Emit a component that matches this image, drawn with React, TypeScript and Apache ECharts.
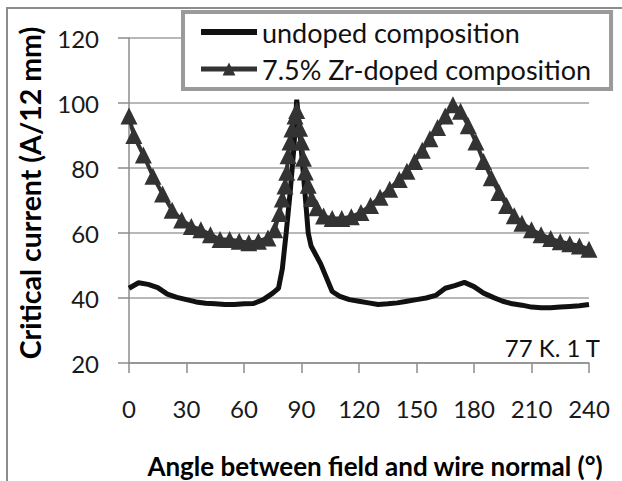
import React, { useEffect, useRef } from "react";
import * as echarts from "echarts";

const seriesNames = ["undoped composition", "7.5% Zr-doped composition"];

const undopedAngles = [0, 5, 10, 15, 20, 25, 30, 35, 40, 45, 50, 55, 60, 65, 70, 75, 78, 80, 82, 84, 86, 87.5, 89, 90, 92, 93.5, 95, 100, 106, 110, 115, 120, 125, 130, 135, 140, 145, 150, 155, 160, 165, 170, 175, 180, 185, 190, 195, 200, 205, 210, 215, 220, 225, 230, 235, 240];
const undopedValues = [43, 44.7, 44.2, 43.2, 41.2, 40.2, 39.5, 38.8, 38.4, 38.2, 38, 38, 38.2, 38.3, 39.5, 41.5, 43, 49, 60, 72, 86, 101, 92, 85, 71, 60, 56, 50.5, 42, 40.5, 39.5, 39, 38.5, 38, 38.2, 38.5, 39, 39.5, 40, 40.8, 43, 43.8, 44.8, 43.5, 41.5, 40.2, 39, 38.2, 37.8, 37.2, 37, 37, 37.2, 37.4, 37.6, 38];

const dopedAngles = [0, 2.5, 7.5, 12.5, 17.5, 22.5, 27.5, 32.5, 37.5, 42.5, 47.5, 52.5, 57.5, 62.5, 67.5, 72.5, 76, 78.5, 80, 81.4, 82.3, 83, 84, 85, 86.6, 87.5, 89, 90, 91, 92, 93.5, 95.3, 98, 101.5, 106, 111, 116, 121, 126, 131, 136, 141, 145, 149, 153, 157, 161, 165, 169, 173, 177, 181, 185, 189, 193, 197, 201, 205, 210, 215, 220, 225, 230, 235, 240];
const dopedValues = [96, 90, 84, 77.5, 72, 67, 64, 62, 61, 59.5, 58, 58, 57.5, 57, 57.5, 58.5, 61, 66, 70.5, 74.5, 78.7, 83.8, 88, 92, 96, 97.7, 92.2, 88, 83, 78.8, 74.7, 70.6, 67.8, 65.2, 64.5, 64.5, 65, 66.3, 68.5, 71, 73.5, 76.5, 79, 82, 85.5, 89, 92.5, 96, 99.5, 97.5, 93, 88, 82, 77, 72.5, 68.5, 65.3, 63, 61, 59.5, 58.3, 57.3, 56.7, 56, 55];

const xTicks = [0, 30, 60, 90, 120, 150, 180, 210, 240];
const yTicks = [20, 40, 60, 80, 100, 120];

const xTitle = "Angle between field and wire normal (°)";
const yTitle = "Critical current (A/12 mm)";
const annotation = "77 K. 1 T";

const FONT = "Lato, 'Open Sans', sans-serif";

export default function App() {
  const ref = useRef<HTMLDivElement>(null);
  useEffect(() => {
    if (!ref.current) return;
    const chart = echarts.init(ref.current, null, { renderer: "svg" });
    const undopedData = undopedAngles.map((a, i) => [a, undopedValues[i]]);
    const dopedData = dopedAngles.map((a, i) => [a, dopedValues[i]]);
    chart.setOption({
      animation: false,
      backgroundColor: "#ffffff",
      textStyle: { fontFamily: FONT },
      grid: { left: 129, right: 33, top: 38, bottom: 118, containLabel: false },
      xAxis: {
        type: "value",
        min: xTicks[0],
        max: xTicks[xTicks.length - 1],
        interval: 30,
        axisLine: { show: true, lineStyle: { color: "#8c8c8c", width: 1.5 } },
        axisTick: { show: true, inside: false, length: 10, lineStyle: { color: "#8c8c8c", width: 1.5 } },
        splitLine: { show: false },
        axisLabel: { fontSize: 24, color: "#1a1a1a", margin: 33, fontFamily: FONT },
      },
      yAxis: {
        type: "value",
        min: yTicks[0],
        max: yTicks[yTicks.length - 1],
        interval: 20,
        axisLine: { show: true, lineStyle: { color: "#8c8c8c", width: 1.5 } },
        axisTick: { show: true, inside: false, length: 11, lineStyle: { color: "#8c8c8c", width: 1.5 } },
        splitLine: { show: true, lineStyle: { color: "#a0a0a0", width: 1.5 } },
        axisLabel: { fontSize: 24, color: "#1a1a1a", margin: 30, fontFamily: FONT },
      },
      legend: {
        show: true,
        orient: "vertical",
        left: 183,
        top: 12,
        backgroundColor: "#ffffff",
        borderColor: "#9a9a9a",
        borderWidth: 4,
        borderRadius: 0,
        padding: [5, 20, 5, 15],
        itemWidth: 56,
        itemHeight: 16,
        itemGap: 7,
        data: [
          { name: seriesNames[0], itemStyle: { opacity: 0 }, lineStyle: { width: 6, color: "#111111" } },
          { name: seriesNames[1], lineStyle: { width: 5, color: "#333333" } },
        ],
        textStyle: { fontSize: 27, color: "#111", fontFamily: FONT, lineHeight: 30 },
      },
      series: [
        {
          name: seriesNames[0],
          type: "line",
          data: undopedData,
          showSymbol: false,
          symbol: "none",
          lineStyle: { color: "#111111", width: 5 },
          itemStyle: { color: "#111111" },
          z: 2,
        },
        {
          name: seriesNames[1],
          type: "line",
          data: dopedData,
          symbol: "triangle",
          symbolSize: 17,
          lineStyle: { color: "#333333", width: 4 },
          itemStyle: { color: "#333333" },
          z: 3,
        },
      ],
      graphic: [
        {
          type: "rect",
          shape: { x: 7, y: 8, width: 700, height: 600 },
          style: { fill: "none", stroke: "#8c8c8c", lineWidth: 2 },
          silent: true,
          z: -1,
        },
        {
          type: "text",
          x: 30,
          y: 193,
          rotation: Math.PI / 2,
          style: {
            text: yTitle,
            font: `bold 28.5px ${FONT}`,
            fill: "#000",
            align: "center",
            verticalAlign: "middle",
          },
        },
        {
          type: "text",
          x: 375,
          y: 466,
          style: {
            text: xTitle,
            font: `bold 26px ${FONT}`,
            fill: "#000",
            align: "center",
            verticalAlign: "middle",
          },
        },
        {
          type: "text",
          x: 600,
          y: 347,
          style: {
            text: annotation,
            font: `24px ${FONT}`,
            fill: "#111",
            align: "right",
            verticalAlign: "middle",
          },
        },
      ],
    });
    return () => chart.dispose();
  }, []);
  return (
    <div
      ref={ref}
      style={{ position: "absolute", left: 0, top: 0, width: 622, height: 481, background: "#fff" }}
    />
  );
}
